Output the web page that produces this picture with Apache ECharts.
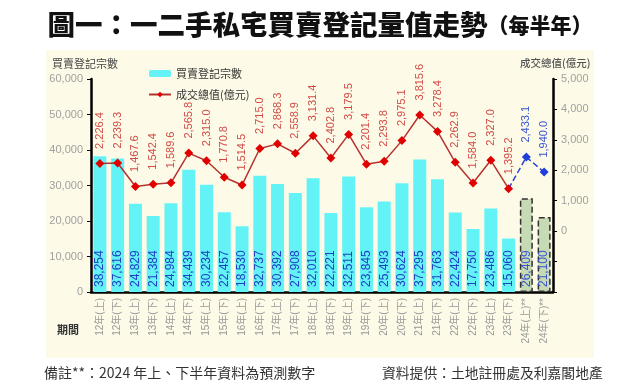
<!DOCTYPE html>
<html><head><meta charset="utf-8">
<script src="https://cdn.jsdelivr.net/npm/echarts@6/dist/echarts.min.js"></script>
<style>html,body{margin:0;padding:0;background:#fff}#c{width:640px;height:391px}</style>
</head><body><div id="c"></div>
<script>
const categories = ['12年(上)','12年(下)','13年(上)','13年(下)','14年(上)','14年(下)','15年(上)','15年(下)','16年(上)','16年(下)','17年(上)','17年(下)','18年(上)','18年(下)','19年(上)','19年(下)','20年(上)','20年(下)','21年(上)','21年(下)','22年(上)','22年(下)','23年(上)','23年(下)','24年(上)**','24年(下)**'];
const registrations = [38254,37616,24829,21384,24984,34439,30234,22457,18530,32737,30392,27908,32010,22221,32511,23845,25493,30624,37295,31763,22424,17750,23486,15060,26409,21100];
const totalValue = [2226.4,2239.3,1467.6,1542.4,1589.6,2565.8,2315.0,1770.8,1514.5,2715.0,2868.3,2558.9,3131.4,2402.8,3179.5,2201.4,2293.8,2975.1,3815.6,3278.4,2262.9,1584.0,2327.0,1395.2];
const forecastValue = [2433.1,1940.0];
const leftTicks = {min:0,max:60000,interval:10000};
const rightTicks = {min:-2000,max:5000,interval:1000};

const NUM = 'Liberation Sans, Arial, sans-serif';
const CJK = 'Liberation Sans, Noto Sans CJK TC, sans-serif';
const fmt0 = v => Number(v).toLocaleString('en-US');
const fmt1 = v => Number(v).toLocaleString('en-US',{minimumFractionDigits:1,maximumFractionDigits:1});
const nActual = totalValue.length;

const barData = registrations.map((v,i)=> i >= nActual ? {
  value:v,
  itemStyle:{color:'#c6dbb4',borderColor:'#333',borderWidth:1.5,borderType:'dashed'},
  label:{color:'#3a55d0'}
} : v);
const redData = totalValue.concat(forecastValue.map(()=>null));
const blueData = categories.map((c,i)=>{
  if (i < nActual-1) return null;
  if (i === nActual-1) return {value: totalValue[i], symbol:'none'};
  return forecastValue[i-nActual];
});

const chart = echarts.init(document.getElementById('c'));
chart.setOption({
  animation:false,
  backgroundColor:'#fff',
  title:{
    text:'{a|圖一：一二手私宅買賣登記量值走勢}{b|（每半年）}',
    left:'center', top:6,
    textStyle:{rich:{
      a:{fontFamily:'Noto Sans CJK TC',fontWeight:900,fontSize:27.5,color:'#111'},
      b:{fontFamily:'Noto Sans CJK TC',fontWeight:900,fontSize:21,color:'#111'}
    }}
  },
  graphic:[
    {type:'rect',z:-10,shape:{x:46,y:50,width:548,height:308},style:{fill:'#fdfbe7'}},
    {type:'text',left:52,top:58,style:{text:'買賣登記宗數',font:'11px Noto Sans CJK TC',fill:'#444'}},
    {type:'text',left:520,top:58,style:{text:'成交總值(億元)',font:'500 10.5px Noto Sans CJK TC',fill:'#555'}},
    {type:'text',left:57,top:324,style:{text:'期間',font:'bold 11px Noto Sans CJK TC',fill:'#333'}},
    {type:'text',left:44,top:366,style:{text:'備註**：2024 年上、下半年資料為預測數字',font:'14px Noto Sans CJK TC',fill:'#333'}},
    {type:'text',left:382,top:366,style:{text:'資料提供：土地註冊處及利嘉閣地產',font:'13.8px Noto Sans CJK TC',fill:'#333'}}
  ],
  legend:{
    orient:'vertical', left:143, top:63, itemGap:10, itemWidth:22, itemHeight:7,
    textStyle:{fontFamily:'Noto Sans CJK TC',fontSize:11,color:'#333'},
    data:['買賣登記宗數','成交總值(億元)']
  },
  grid:{left:91,right:87,top:79,bottom:99},
  xAxis:{
    type:'category', data:categories,
    axisLine:{lineStyle:{color:'#000',width:2.5}},
    axisTick:{show:false},
    axisLabel:{rotate:90,interval:0,margin:6,fontFamily:CJK,fontSize:10,color:'#999'}
  },
  yAxis:[
    {type:'value',min:leftTicks.min,max:leftTicks.max,interval:leftTicks.interval,
     axisLine:{show:true,lineStyle:{color:'#000',width:2.5}},
     axisTick:{show:true,length:4,lineStyle:{color:'#000'}},
     splitLine:{show:false},
     axisLabel:{formatter:v=>fmt0(v),fontFamily:NUM,fontSize:11,color:'#a0a0a0',margin:8}},
    {type:'value',position:'right',min:rightTicks.min,max:rightTicks.max,interval:rightTicks.interval,
     axisLine:{show:true,lineStyle:{color:'#000',width:2.5}},
     axisTick:{show:true,length:4,lineStyle:{color:'#000'}},
     splitLine:{show:false},
     axisLabel:{formatter:v=> v<0 ? '' : fmt0(v),fontFamily:NUM,fontSize:11,color:'#a0a0a0',margin:8}}
  ],
  series:[
    {name:'買賣登記宗數',type:'bar',data:barData,barWidth:13,
     itemStyle:{color:'#63f3f6'},
     label:{show:true,position:'insideBottom',rotate:90,align:'left',verticalAlign:'middle',distance:5,
            formatter:p=>fmt0(p.value),fontFamily:NUM,fontSize:12,color:'#1f3fc4'}},
    {name:'預測',type:'line',yAxisIndex:1,data:blueData,connectNulls:false,
     symbol:'diamond',symbolSize:9,
     lineStyle:{color:'#2a44d4',width:1.5,type:'dashed'},
     itemStyle:{color:'#1f3fd8'},
     label:{show:true,position:'top',rotate:90,align:'left',verticalAlign:'middle',distance:10,
            formatter:p=> p.dataIndex < nActual ? '' : fmt1(p.value),fontFamily:NUM,fontSize:11,color:'#3a55d0'},
     z:3},
    {name:'成交總值(億元)',type:'line',yAxisIndex:1,data:redData,
     symbol:'diamond',symbolSize:9,
     lineStyle:{color:'#b5332e',width:1.5},
     itemStyle:{color:'#e00000'},
     label:{show:true,position:'top',rotate:90,align:'left',verticalAlign:'middle',distance:10,
            formatter:p=>fmt1(p.value),fontFamily:NUM,fontSize:11,color:'#d04a45'},
     z:4}
  ]
});
</script></body></html>
